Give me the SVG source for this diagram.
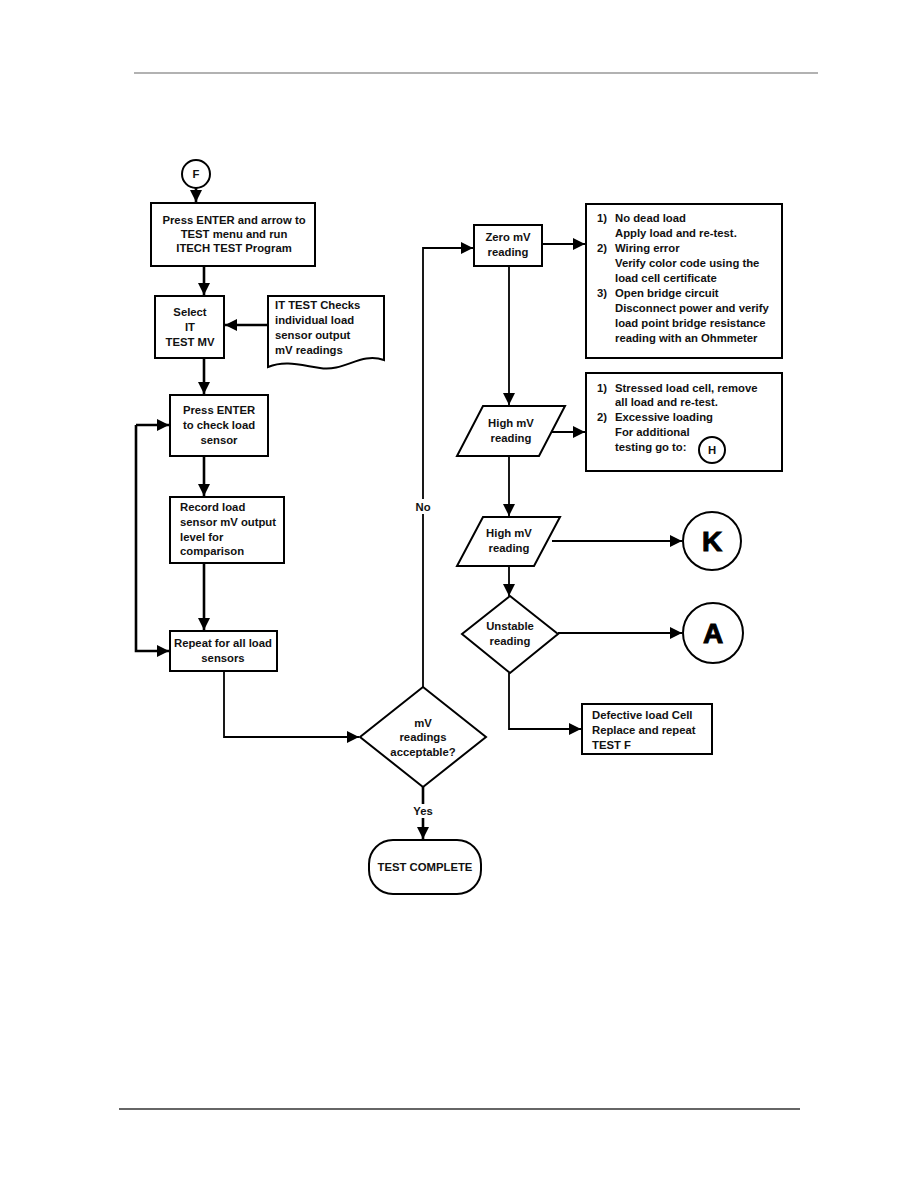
<svg xmlns="http://www.w3.org/2000/svg" width="918" height="1188" viewBox="0 0 918 1188">
<defs>
<marker id="ahb" viewBox="0 0 10 10" refX="10" refY="5" markerWidth="12" markerHeight="12" markerUnits="userSpaceOnUse" orient="auto"><path d="M0,0 L10,5 L0,10 z" fill="#000"/></marker>
</defs>
<style>
.s{fill:#fff;stroke:#000;stroke-width:2}
.t{font-family:"Liberation Sans",Arial,sans-serif;font-weight:bold;font-size:11.3px;fill:#111}
.c{text-anchor:middle}
.ln{fill:none;stroke:#000;stroke-width:1.8}
.lb{fill:none;stroke:#000;stroke-width:2.6}
.big{font-family:"Liberation Sans",Arial,sans-serif;font-weight:bold;font-size:28px;text-anchor:middle;fill:#000;stroke:#000;stroke-width:1}
</style>
<rect width="918" height="1188" fill="#fff"/>
<line x1="134" y1="73" x2="818" y2="73" stroke="#666" stroke-width="1.2"/>
<line x1="119" y1="1109" x2="800" y2="1109" stroke="#666" stroke-width="2.2"/>

<g id="connectors">
<path class="lb" d="M196,188 V202" marker-end="url(#ahb)"/>
<path class="lb" d="M204,266 V295" marker-end="url(#ahb)"/>
<path class="lb" d="M268,325 H225" marker-end="url(#ahb)"/>
<path class="lb" d="M204,358 V394" marker-end="url(#ahb)"/>
<path class="lb" d="M204,456 V496" marker-end="url(#ahb)"/>
<path class="lb" d="M204,563 V630" marker-end="url(#ahb)"/>
<path class="lb" d="M136,425 H169" marker-end="url(#ahb)"/>
<path class="lb" d="M136,425 V651 H169" marker-end="url(#ahb)"/>
<path class="ln" d="M224,671 V737 H359" marker-end="url(#ahb)"/>
<path class="ln" d="M423,687 V248 H473" marker-end="url(#ahb)"/>
<path class="lb" d="M423,787 V839" marker-end="url(#ahb)"/>
<path class="ln" d="M542,244 H585" marker-end="url(#ahb)"/>
<path class="ln" d="M509,266 V405" marker-end="url(#ahb)"/>
<path class="ln" d="M552,432 H585" marker-end="url(#ahb)"/>
<path class="ln" d="M509,456 V516" marker-end="url(#ahb)"/>
<path class="ln" d="M552,541 H682" marker-end="url(#ahb)"/>
<path class="ln" d="M509,566 V596" marker-end="url(#ahb)"/>
<path class="ln" d="M558,633 H682" marker-end="url(#ahb)"/>
<path class="ln" d="M509,673 V729 H581" marker-end="url(#ahb)"/>
<rect x="412" y="499" width="22" height="15" fill="#fff"/>
<text class="t c" x="423" y="511">No</text>
<rect x="410" y="804" width="26" height="14" fill="#fff"/>
<text class="t c" x="423" y="815">Yes</text>
</g>

<g id="F">
<circle class="s" cx="196" cy="174" r="14"/>
<text class="t c" x="196" y="178">F</text>
</g>
<g id="press-enter-arrow">
<rect class="s" x="151" y="203" width="164" height="63"/>
<text class="t c" x="234" y="224">Press ENTER and arrow to</text>
<text class="t c" x="234" y="238">TEST menu and run</text>
<text class="t c" x="234" y="252">ITECH TEST Program</text>
</g>
<g id="select-it">
<rect class="s" x="155" y="296" width="69" height="62"/>
<text class="t c" x="190" y="316">Select</text>
<text class="t c" x="190" y="331">IT</text>
<text class="t c" x="190" y="346">TEST MV</text>
</g>
<g id="it-test-doc">
<path class="s" d="M268,296 H384 V360 C360,352 345,372 320,368 C300,365 285,360 268,367 Z"/>
<text class="t" x="275" y="309">IT TEST Checks</text>
<text class="t" x="275" y="324">individual load</text>
<text class="t" x="275" y="339">sensor output</text>
<text class="t" x="275" y="354">mV readings</text>
</g>
<g id="press-enter-check">
<rect class="s" x="170" y="395" width="98" height="61"/>
<text class="t c" x="219" y="414">Press ENTER</text>
<text class="t c" x="219" y="429">to check load</text>
<text class="t c" x="219" y="444">sensor</text>
</g>
<g id="record">
<rect class="s" x="170" y="497" width="114" height="66"/>
<text class="t" x="180" y="511">Record load</text>
<text class="t" x="180" y="526">sensor mV output</text>
<text class="t" x="180" y="541">level for</text>
<text class="t" x="180" y="555">comparison</text>
</g>
<g id="repeat">
<rect class="s" x="170" y="631" width="107" height="40"/>
<text class="t c" x="223" y="647">Repeat for all load</text>
<text class="t c" x="223" y="662">sensors</text>
</g>
<g id="acceptable">
<path class="s" d="M423,687 L486,737 L423,787 L360,737 Z"/>
<text class="t c" x="423" y="727">mV</text>
<text class="t c" x="423" y="741">readings</text>
<text class="t c" x="423" y="756">acceptable?</text>
</g>
<g id="test-complete">
<rect class="s" x="369" y="840" width="112" height="54" rx="24" ry="24"/>
<text class="t c" x="425" y="871">TEST COMPLETE</text>
</g>
<g id="zero-mv">
<rect class="s" x="474" y="225" width="68" height="41"/>
<text class="t c" x="508" y="241">Zero mV</text>
<text class="t c" x="508" y="256">reading</text>
</g>
<g id="zero-notes">
<rect class="s" x="586" y="204" width="196" height="154"/>
<text class="t" x="597" y="222">1)</text><text class="t" x="615" y="222">No dead load</text>
<text class="t" x="615" y="237">Apply load and re-test.</text>
<text class="t" x="597" y="252">2)</text><text class="t" x="615" y="252">Wiring error</text>
<text class="t" x="615" y="267">Verify color code using the</text>
<text class="t" x="615" y="282">load cell certificate</text>
<text class="t" x="597" y="297">3)</text><text class="t" x="615" y="297">Open bridge circuit</text>
<text class="t" x="615" y="312">Disconnect power and verify</text>
<text class="t" x="615" y="327">load point bridge resistance</text>
<text class="t" x="615" y="342">reading with an Ohmmeter</text>
</g>
<g id="high-mv-1">
<path class="s" d="M483,406 H565 L539,456 H457 Z"/>
<text class="t c" x="511" y="427">High mV</text>
<text class="t c" x="511" y="442">reading</text>
</g>
<g id="high-notes">
<rect class="s" x="586" y="373" width="196" height="98"/>
<text class="t" x="597" y="392">1)</text><text class="t" x="615" y="392">Stressed load cell, remove</text>
<text class="t" x="615" y="406">all load and re-test.</text>
<text class="t" x="597" y="421">2)</text><text class="t" x="615" y="421">Excessive loading</text>
<text class="t" x="615" y="436">For additional</text>
<text class="t" x="615" y="451">testing go to:</text>
<circle class="s" cx="712" cy="450" r="13" stroke-width="1.8"/>
<text class="t c" x="712" y="454">H</text>
</g>
<g id="high-mv-2">
<path class="s" d="M483,517 H560 L534,566 H457 Z"/>
<text class="t c" x="509" y="537">High mV</text>
<text class="t c" x="509" y="552">reading</text>
</g>
<g id="K">
<circle class="s" cx="712" cy="541" r="29"/>
<text class="big" x="712" y="551">K</text>
</g>
<g id="unstable">
<path class="s" d="M510,596 L558,634 L510,673 L462,634 Z"/>
<text class="t c" x="510" y="630">Unstable</text>
<text class="t c" x="510" y="645">reading</text>
</g>
<g id="A">
<circle class="s" cx="713" cy="633" r="30"/>
<text class="big" x="713" y="643">A</text>
</g>
<g id="defective">
<rect class="s" x="582" y="704" width="130" height="50"/>
<text class="t" x="592" y="719">Defective load Cell</text>
<text class="t" x="592" y="734">Replace and repeat</text>
<text class="t" x="592" y="749">TEST F</text>
</g>
</svg>
